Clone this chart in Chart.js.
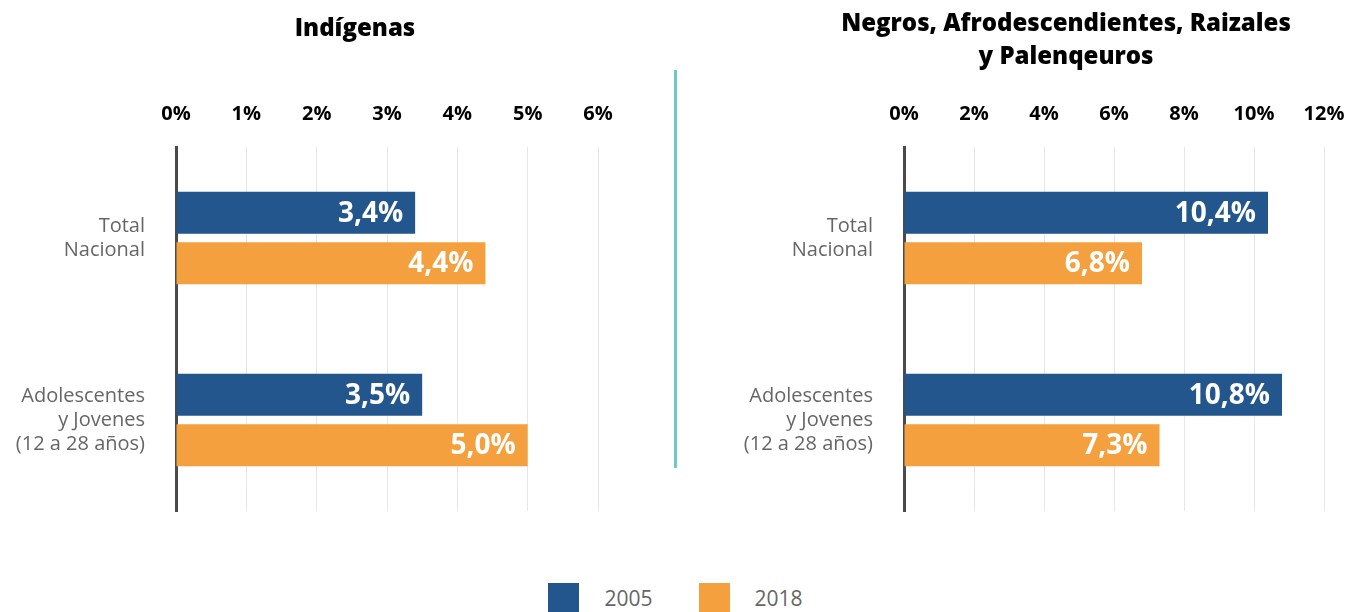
<!DOCTYPE html>
<html>
<head>
<meta charset="utf-8">
<script src="https://cdn.jsdelivr.net/npm/chart.js@4/dist/chart.umd.min.js"></script>
<style>
  html, body { margin: 0; padding: 0; background: #fff; overflow: hidden; }
  body { width: 1359px; height: 612px; position: relative; font-family: "Open Sans", Lato, sans-serif; }
  .panel { position: absolute; top: 0; height: 566px; }
  #divider { position: absolute; left: 674px; top: 70px; width: 3px; height: 398px; background: #6cc9c6; }
  #legend { position: absolute; top: 583px; left: -4px; width: 1359px; display: flex; justify-content: center; }
  .item { display: flex; align-items: center; margin: 0 23px; }
  .sq { width: 31px; height: 30px; margin-right: 25px; }
  .lbl { font-size: 21px; color: #666; }
</style>
</head>
<body>
<div class="panel" style="left:0;width:710px"><canvas id="chartIndigenas"></canvas></div>
<div class="panel" style="left:720px;width:692px"><canvas id="chartNegros"></canvas></div>
<div id="divider"></div>
<div id="legend"></div>

<script>
// Datos
const categorias = [['Total', 'Nacional'], ['Adolescentes', 'y Jovenes', '(12 a 28 años)']];
const series = ['2005', '2018'];
const colores = ['#22568c', '#f4a03e'];

const indigenas2005 = [3.4, 3.5];
const indigenas2018 = [4.4, 5.0];
const negros2005 = [10.4, 10.8];
const negros2018 = [6.8, 7.3];

const fuente = '"Open Sans", Lato, sans-serif';

// Etiquetas dentro de la barra
const etiquetasBarras = {
    id: 'etiquetasBarras',
    afterDatasetsDraw(chart) {
        const ctx = chart.ctx;
        ctx.save();
        ctx.fillStyle = '#fff';
        ctx.font = 'bold 28px ' + fuente;
        ctx.textAlign = 'right';
        ctx.textBaseline = 'middle';
        chart.data.datasets.forEach((ds, i) => {
            chart.getDatasetMeta(i).data.forEach((bar, j) => {
                const txt = ds.data[j].toFixed(1).replace('.', ',') + '%';
                ctx.fillText(txt, bar.x - 12, bar.y + 1);
            });
        });
        ctx.restore();
    }
};

function crearGrafico(id, titulo, datos05, datos18, maximo, paso, anchoEje, espacioDerecha, padTitulo) {
    const lineas = Array.isArray(titulo) ? titulo.length : 1;
    const altoTitulo = padTitulo + lineas * 24 * 1.36;
    const ctx = document.getElementById(id).getContext('2d');
    return new Chart(ctx, {
        type: 'bar',
        data: {
            labels: categorias,
            datasets: [
                { label: series[0], data: datos05, backgroundColor: colores[0] },
                { label: series[1], data: datos18, backgroundColor: colores[1] }
            ]
        },
        options: {
            indexAxis: 'y',
            responsive: true,
            maintainAspectRatio: false,
            animation: false,
            categoryPercentage: 0.554,
            barPercentage: 0.834,
            layout: { padding: { left: 0, right: 0, top: 0, bottom: 32 } },
            plugins: {
                legend: { display: false },
                tooltip: { enabled: false },
                title: {
                    display: true,
                    text: titulo,
                    color: '#000',
                    font: { family: fuente, size: 24, weight: '800', lineHeight: 1.36 },
                    padding: { top: padTitulo, bottom: 0 }
                }
            },
            scales: {
                x: {
                    position: 'top',
                    min: 0,
                    max: maximo,
                    ticks: {
                        stepSize: paso,
                        padding: 21,
                        color: '#000',
                        font: { family: fuente, size: 20, weight: 'bold' },
                        callback: v => v + '%'
                    },
                    grid: { color: '#e6e6e6', lineWidth: 1, drawTicks: false },
                    border: { display: false },
                    afterFit: s => { s.height = 147 - altoTitulo; }
                },
                y: {
                    ticks: {
                        padding: 31,
                        color: '#666',
                        font: { family: fuente, size: 20, lineHeight: 1.2 }
                    },
                    grid: { display: false, drawTicks: false },
                    border: { display: true, color: '#4a4a4a', width: 3 },
                    afterFit: s => { s.width = anchoEje; }
                },
                // eje vacío a la derecha para reservar espacio y centrar el título
                derecha: {
                    type: 'category',
                    axis: 'y',
                    position: 'right',
                    ticks: { display: false },
                    grid: { display: false, drawTicks: false },
                    border: { display: false },
                    afterFit: s => { s.width = espacioDerecha; }
                }
            }
        },
        plugins: [etiquetasBarras]
    });
}

crearGrafico('chartIndigenas', 'Indígenas', indigenas2005, indigenas2018, 6, 1, 176, 112, 12.7);
crearGrafico('chartNegros', ['Negros, Afrodescendientes, Raizales', 'y Palenqeuros'],
    negros2005, negros2018, 12, 2, 184, 88, 7.7);

// Leyenda
const leyenda = document.getElementById('legend');
series.forEach((s, i) => {
    const item = document.createElement('div');
    item.className = 'item';
    item.innerHTML = '<div class="sq" style="background:' + colores[i] + '"></div><span class="lbl">' + s + '</span>';
    leyenda.appendChild(item);
});
</script>
</body>
</html>
